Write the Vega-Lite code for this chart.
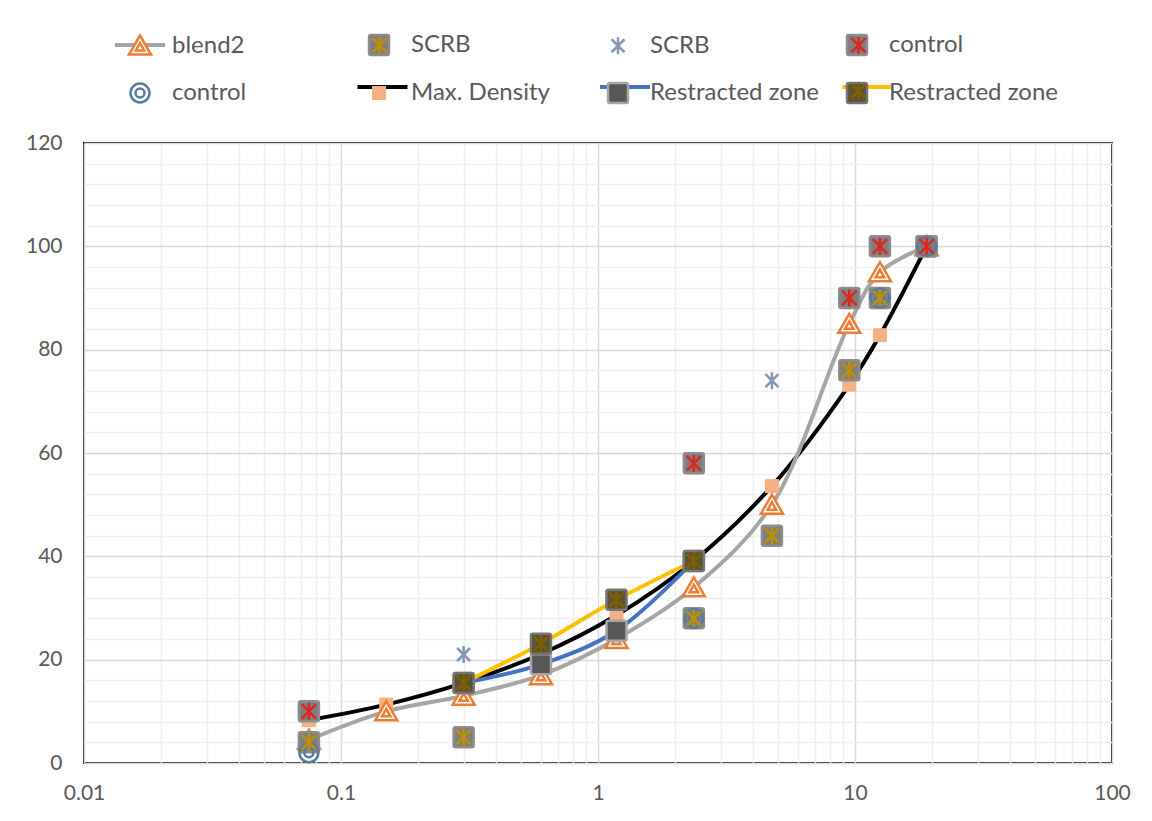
{
  "$schema": "https://vega.github.io/schema/vega-lite/v6.json",
  "width": 1028,
  "height": 620,
  "autosize": {"type": "none"},
  "padding": {"left": 84, "top": 143, "right": 40, "bottom": 58},
  "background": "white",
  "config": {
    "view": {"stroke": "#1F1F1F", "strokeWidth": 2},
    "font": "Lato"
  },
  "data": {
    "values": [
      {"series": "Max. Density", "size": 0.075, "passing": 8.3},
      {"series": "Max. Density", "size": 0.15, "passing": 11.3},
      {"series": "Max. Density", "size": 0.3, "passing": 15.5},
      {"series": "Max. Density", "size": 0.6, "passing": 21.1},
      {"series": "Max. Density", "size": 1.18, "passing": 28.6},
      {"series": "Max. Density", "size": 2.36, "passing": 39.1},
      {"series": "Max. Density", "size": 4.75, "passing": 53.6},
      {"series": "Max. Density", "size": 9.5, "passing": 73.2},
      {"series": "Max. Density", "size": 12.5, "passing": 82.8},
      {"series": "Max. Density", "size": 19, "passing": 100},
      {"series": "blend2", "size": 0.075, "passing": 4.5},
      {"series": "blend2", "size": 0.15, "passing": 10},
      {"series": "blend2", "size": 0.3, "passing": 13},
      {"series": "blend2", "size": 0.6, "passing": 17},
      {"series": "blend2", "size": 1.18, "passing": 24},
      {"series": "blend2", "size": 2.36, "passing": 34},
      {"series": "blend2", "size": 4.75, "passing": 50},
      {"series": "blend2", "size": 9.5, "passing": 85},
      {"series": "blend2", "size": 12.5, "passing": 95},
      {"series": "blend2", "size": 19, "passing": 100},
      {"series": "SCRB lower", "size": 0.075, "passing": 4},
      {"series": "SCRB lower", "size": 0.3, "passing": 5},
      {"series": "SCRB lower", "size": 2.36, "passing": 28},
      {"series": "SCRB lower", "size": 4.75, "passing": 44},
      {"series": "SCRB lower", "size": 9.5, "passing": 76},
      {"series": "SCRB lower", "size": 12.5, "passing": 90},
      {"series": "SCRB lower", "size": 19, "passing": 100},
      {"series": "SCRB upper", "size": 0.075, "passing": 10},
      {"series": "SCRB upper", "size": 0.3, "passing": 21},
      {"series": "SCRB upper", "size": 2.36, "passing": 58},
      {"series": "SCRB upper", "size": 4.75, "passing": 74},
      {"series": "SCRB upper", "size": 9.5, "passing": 90},
      {"series": "SCRB upper", "size": 12.5, "passing": 100},
      {"series": "SCRB upper", "size": 19, "passing": 100},
      {"series": "control upper", "size": 0.075, "passing": 10},
      {"series": "control upper", "size": 2.36, "passing": 58},
      {"series": "control upper", "size": 9.5, "passing": 90},
      {"series": "control upper", "size": 12.5, "passing": 100},
      {"series": "control upper", "size": 19, "passing": 100},
      {"series": "control lower", "size": 0.075, "passing": 2},
      {"series": "control lower", "size": 2.36, "passing": 28},
      {"series": "control lower", "size": 12.5, "passing": 90},
      {"series": "control lower", "size": 19, "passing": 100},
      {"series": "Restracted zone lower", "size": 0.3, "passing": 15.5},
      {"series": "Restracted zone lower", "size": 0.6, "passing": 19.1},
      {"series": "Restracted zone lower", "size": 1.18, "passing": 25.6},
      {"series": "Restracted zone lower", "size": 2.36, "passing": 39.1},
      {"series": "Restracted zone upper", "size": 0.3, "passing": 15.5},
      {"series": "Restracted zone upper", "size": 0.6, "passing": 23.1},
      {"series": "Restracted zone upper", "size": 1.18, "passing": 31.6},
      {"series": "Restracted zone upper", "size": 2.36, "passing": 39.1}
    ]
  },
  "layer": [
    {
      "transform": [{"filter": {"field": "series", "oneOf": ["blend2", "Max. Density", "Restracted zone lower", "Restracted zone upper"]}}],
      "mark": {"type": "line", "interpolate": "catmull-rom", "strokeWidth": 4, "opacity": 1, "clip": true},
      "encoding": {
        "x": {
          "field": "size", "type": "quantitative",
          "scale": {"type": "log", "domain": [0.01, 100], "nice": false},
          "axis": {
            "title": null, "ticks": false, "domain": false, "grid": true,
            "values": [0.01, 0.02, 0.03, 0.04, 0.05, 0.06, 0.07, 0.08, 0.09, 0.1, 0.2, 0.3, 0.4, 0.5, 0.6, 0.7, 0.8, 0.9, 1, 2, 3, 4, 5, 6, 7, 8, 9, 10, 20, 30, 40, 50, 60, 70, 80, 90, 100],
            "format": "~g",
            "labelExpr": "abs(log(datum.value) / LN10 - round(log(datum.value) / LN10)) < 0.001 ? datum.label : ''",
            "labelFont": "Lato", "labelFontSize": 21, "labelColor": "#595959",
            "labelPadding": 19, "labelFlush": false, "labelOverlap": false, "labelBound": false,
            "gridColor": {"condition": {"test": "abs(log(datum.value) / LN10 - round(log(datum.value) / LN10)) < 0.001", "value": "#D9D9D9"}, "value": "#EFEFEF"},
            "gridWidth": 1.5
          }
        },
        "y": {
          "field": "passing", "type": "quantitative",
          "scale": {"domain": [0, 120], "nice": false},
          "axis": {
            "title": null, "ticks": false, "domain": false, "grid": true, "orient": "left",
            "values": [0, 20, 40, 60, 80, 100, 120],
            "format": "d",
            "labelFont": "Lato", "labelFontSize": 21, "labelColor": "#595959",
            "labelPadding": 22, "labelOverlap": false, "labelBound": false, "labelFlush": false,
            "gridColor": "#D9D9D9", "gridWidth": 1.5
          }
        },
        "color": {
          "field": "series", "type": "nominal",
          "scale": {
            "domain": ["blend2", "SCRB lower", "SCRB upper", "control upper", "control lower", "Max. Density", "Restracted zone lower", "Restracted zone upper"],
            "range": ["#A5A5A5", "transparent", "transparent", "transparent", "transparent", "#000000", "#4472C4", "#FFC000"]
          },
          "legend": {
            "title": null, "orient": "none", "legendX": 30, "legendY": -110, "zindex": 0,
            "columns": 4, "direction": "horizontal", "gridAlign": "all", "padding": 0,
            "columnPadding": 176.5, "rowPadding": 18,
            "symbolType": "M-2.5,0H2.5", "symbolSize": 400, "symbolStrokeWidth": 4, "symbolOpacity": 1,
            "symbolOffset": 14, "labelOffset": 20,
            "labelFont": "Lato", "labelFontSize": 24, "labelColor": "#595959",
            "labelExpr": "''"
          }
        }
      }
    },
    {
      "mark": {"type": "point", "filled": true, "size": 400, "strokeWidth": 2.5, "opacity": 1},
      "encoding": {
        "x": {"field": "size", "type": "quantitative"},
        "y": {
          "field": "passing", "type": "quantitative",
          "axis": {
            "title": null, "orient": "right", "ticks": false, "domain": false, "labels": false, "grid": true,
            "values": [4, 8, 12, 16, 24, 28, 32, 36, 44, 48, 52, 56, 64, 68, 72, 76, 84, 88, 92, 96, 104, 108, 112, 116],
            "gridColor": "#EFEFEF", "gridWidth": 1.5
          }
        },
        "shape": {
          "field": "series", "type": "nominal",
          "scale": {
            "domain": ["blend2", "SCRB lower", "SCRB upper", "control upper", "control lower", "Max. Density", "Restracted zone lower", "Restracted zone upper"],
            "range": [
              "M-2.575,0M2.575,0M0,-1L1.1,0.9L-1.1,0.9Z M0,-0.25L0.42,0.5L-0.42,0.5Z",
              "M-2.575,0M2.575,0M-0.8,-1H0.8A0.2,0.2,0,0,1,1,-0.8V0.8A0.2,0.2,0,0,1,0.8,1H-0.8A0.2,0.2,0,0,1,-1,0.8V-0.8A0.2,0.2,0,0,1,-0.8,-1Z",
              "M-2.575,0M2.575,0M-0.65,-0.65L0.65,0.65M0.65,-0.65L-0.65,0.65M0,-0.85V0.85",
              "M-2.575,0M2.575,0M-0.8,-1H0.8A0.2,0.2,0,0,1,1,-0.8V0.8A0.2,0.2,0,0,1,0.8,1H-0.8A0.2,0.2,0,0,1,-1,0.8V-0.8A0.2,0.2,0,0,1,-0.8,-1Z",
              "M-2.575,0M2.575,0M-0.95,0A0.95,0.95,0,1,0,0.95,0A0.95,0.95,0,1,0,-0.95,0Z M-0.45,0A0.45,0.45,0,1,0,0.45,0A0.45,0.45,0,1,0,-0.45,0Z",
              "M-2.575,0M2.575,0M-0.7,-0.7H0.7V0.7H-0.7Z",
              "M-2.575,0M2.575,0M-0.8,-1H0.8A0.2,0.2,0,0,1,1,-0.8V0.8A0.2,0.2,0,0,1,0.8,1H-0.8A0.2,0.2,0,0,1,-1,0.8V-0.8A0.2,0.2,0,0,1,-0.8,-1Z",
              "M-2.575,0M2.575,0M-0.8,-1H0.8A0.2,0.2,0,0,1,1,-0.8V0.8A0.2,0.2,0,0,1,0.8,1H-0.8A0.2,0.2,0,0,1,-1,0.8V-0.8A0.2,0.2,0,0,1,-0.8,-1Z"
            ]
          },
          "legend": {
            "title": null, "orient": "none", "legendX": 30, "legendY": -110, "zindex": 1,
            "columns": 4, "direction": "horizontal", "gridAlign": "all", "padding": 0,
            "columnPadding": 7, "rowPadding": 18,
            "symbolSize": 400, "symbolStrokeWidth": 2.5, "symbolOpacity": 1,
            "symbolOffset": 14, "labelOffset": 20,
            "labelFont": "Lato", "labelFontSize": 24, "labelColor": "#595959", "labelLimit": 400,
            "labelExpr": "replace(datum.label, / (upper|lower)$/, '')"
          }
        },
        "fill": {
          "field": "series", "type": "nominal",
          "scale": {
            "domain": ["blend2", "SCRB lower", "SCRB upper", "control upper", "control lower", "Max. Density", "Restracted zone lower", "Restracted zone upper"],
            "range": ["#FFFFFF", "#7F7F7F", "transparent", "#7F7F7F", "transparent", "#F4B183", "#575757", "#5C5232"]
          }
        },
        "stroke": {
          "field": "series", "type": "nominal",
          "scale": {
            "domain": ["blend2", "SCRB lower", "SCRB upper", "control upper", "control lower", "Max. Density", "Restracted zone lower", "Restracted zone upper"],
            "range": ["#ED7D31", "#8C8C8C", "#8497B0", "#8C8C8C", "#5A7AA0", "transparent", "#A6A6A6", "#747474"]
          }
        }
      }
    },
    {
      "transform": [{"filter": {"field": "series", "oneOf": ["SCRB lower", "control upper", "Restracted zone upper"]}}],
      "mark": {"type": "point", "filled": false, "size": 400, "strokeWidth": 2.5, "opacity": 1},
      "encoding": {
        "x": {"field": "size", "type": "quantitative"},
        "y": {"field": "passing", "type": "quantitative", "axis": null},
        "shape": {
          "field": "series", "type": "nominal",
          "scale": {
            "domain": ["blend2", "SCRB lower", "SCRB upper", "control upper", "control lower", "Max. Density", "Restracted zone lower", "Restracted zone upper"],
            "range": [
              "M-2.575,0M2.575,0M-0.72,-0.72L0.72,0.72M0.72,-0.72L-0.72,0.72M0,-0.85V0.85",
              "M-2.575,0M2.575,0M-0.72,-0.72L0.72,0.72M0.72,-0.72L-0.72,0.72M0,-0.85V0.85",
              "M-2.575,0M2.575,0M-0.72,-0.72L0.72,0.72M0.72,-0.72L-0.72,0.72M0,-0.85V0.85",
              "M-2.575,0M2.575,0M-0.72,-0.72L0.72,0.72M0.72,-0.72L-0.72,0.72M0,-0.85V0.85",
              "M-2.575,0M2.575,0M-0.72,-0.72L0.72,0.72M0.72,-0.72L-0.72,0.72M0,-0.85V0.85",
              "M-2.575,0M2.575,0M-0.72,-0.72L0.72,0.72M0.72,-0.72L-0.72,0.72M0,-0.85V0.85",
              "M-2.575,0M2.575,0M-0.72,-0.72L0.72,0.72M0.72,-0.72L-0.72,0.72M0,-0.85V0.85",
              "M-2.575,0M2.575,0M-0.72,-0.72L0.72,0.72M0.72,-0.72L-0.72,0.72M0,-0.85V0.85"
            ]
          },
          "legend": {
            "title": null, "orient": "none", "legendX": 30, "legendY": -110, "zindex": 2,
            "columns": 4, "direction": "horizontal", "gridAlign": "all", "padding": 0,
            "columnPadding": 176.5, "rowPadding": 18,
            "symbolSize": 400, "symbolStrokeWidth": 2.5, "symbolOpacity": 1,
            "symbolOffset": 14, "labelOffset": 20,
            "labelFont": "Lato", "labelFontSize": 24, "labelColor": "#595959",
            "labelExpr": "''"
          }
        },
        "stroke": {
          "field": "series", "type": "nominal",
          "scale": {
            "domain": ["blend2", "SCRB lower", "SCRB upper", "control upper", "control lower", "Max. Density", "Restracted zone lower", "Restracted zone upper"],
            "range": ["transparent", "#BF9000", "transparent", "#E0241F", "transparent", "transparent", "transparent", "#7F6000"]
          }
        }
      }
    }
  ],
  "resolve": {
    "scale": {"shape": "independent", "stroke": "independent", "fill": "independent"},
    "legend": {"shape": "independent", "stroke": "independent", "fill": "independent"},
    "axis": {"y": "independent"}
  }
}
